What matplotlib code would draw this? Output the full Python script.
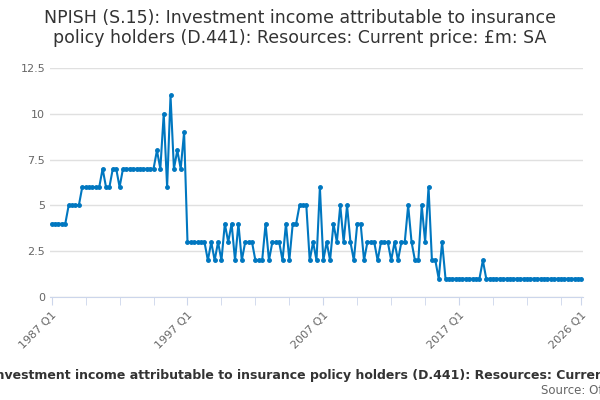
import matplotlib
matplotlib.use("Agg")
import matplotlib.pyplot as plt
from matplotlib.ticker import FixedLocator, FuncFormatter

values = ([4]*5 + [5]*4 + [6]*6 + [7, 6, 6, 7, 7, 6] + [7]*10 + [8, 7, 10, 6, 11, 7, 8, 7, 9]
          + [3]*6
          + [2,3,2,3,2,4,3,4,2,4, 2,3,3,3,2,2,2,4,2, 3,3,3,2,4,2,4,4,5,5, 5,2,3,2, 6]
          + [2,3,2,4,3,5,3,5,3,2,4,4,2,3,3,3,2,3,3,3,2,3,2,3,3,5,3,2,2,5,3, 6]
          + [2,2,1,3,1] + [1]*10 + [2] + [1]*29)
start_year = 1987
labels = {0: "1987 Q1", 40: "1997 Q1", 80: "2007 Q1", 120: "2017 Q1", len(values)-1: "2026 Q1"}

fig = plt.figure(figsize=(6, 4), dpi=100)
ax = fig.add_axes([50/600, 1-297/400, 533/600, 229/400])
x = list(range(len(values)))
ax.plot(x, values, color="#0077c0", lw=1.5, marker="o", ms=2.5)
ax.set_xlim(-0.5, len(values)-0.5)
ax.set_ylim(0, 12.5)
ax.set_yticks([0, 2.5, 5, 7.5, 10, 12.5])
ax.yaxis.set_major_formatter(FuncFormatter(lambda v, p: f"{v:g}"))
ax.grid(axis="y", color="#e0e0e0", lw=1)
ax.set_axisbelow(True)
ax.xaxis.set_major_locator(FixedLocator(list(labels.keys())))
ax.set_xticklabels(list(labels.values()), rotation=45, ha="right", rotation_mode="anchor", color="#666666", fontsize=8)
ax.xaxis.set_minor_locator(FixedLocator([i for i in range(0, len(values), 10)]))
ax.tick_params(axis="x", which="both", length=6, color="#ccd6eb")
ax.tick_params(axis="y", length=0, labelcolor="#666666", labelsize=8)
for s in ["top", "right", "left"]:
    ax.spines[s].set_visible(False)
ax.spines["bottom"].set_color("#ccd6eb")
fig.text(0.5, 1-28/400, "NPISH (S.15): Investment income attributable to insurance\npolicy holders (D.441): Resources: Current price: £m: SA",
         ha="center", va="center", fontsize=12.5, color="#333333", linespacing=1.2)
fig.text(0.5, 1-375/400, "NPISH (S.15): Investment income attributable to insurance policy holders (D.441): Resources: Current price: £m: SA",
         ha="center", va="center", fontsize=9, color="#333333", fontweight="bold")
fig.text(541/600, 1-391/400, "Source: Office for National Statistics", ha="left", va="center", fontsize=8.5, color="#666666")
fig.savefig("out.png")
